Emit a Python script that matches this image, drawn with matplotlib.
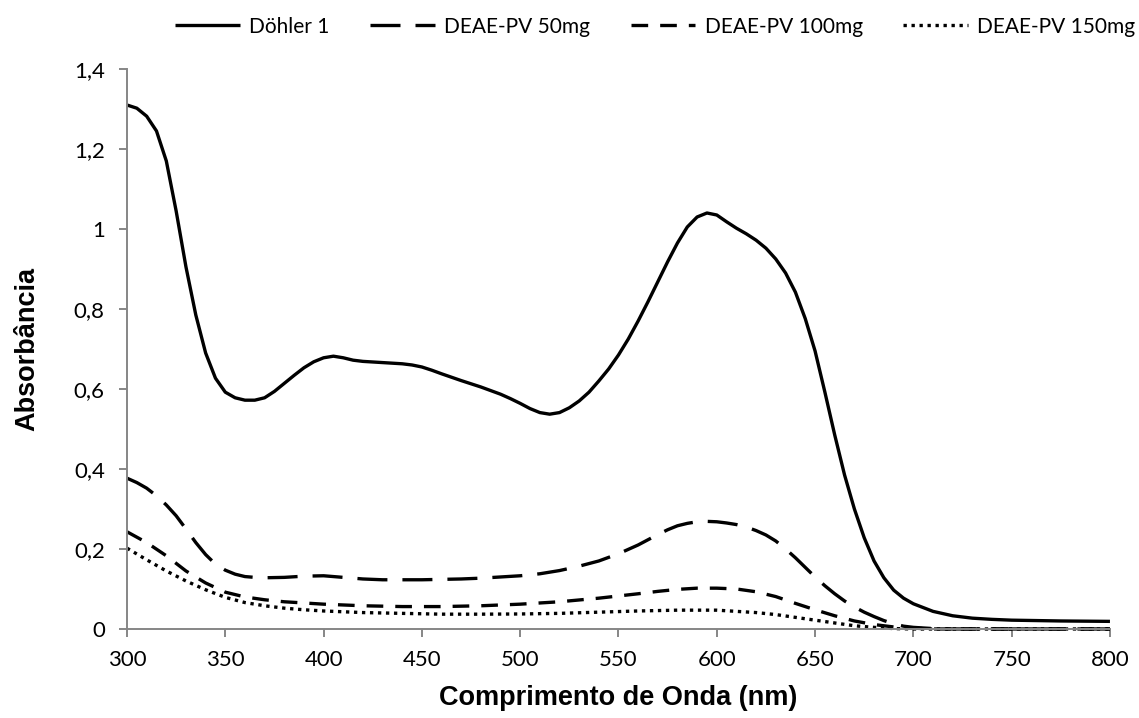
import matplotlib
matplotlib.use("Agg")
import matplotlib.pyplot as plt

# Absorption spectra (wavelength in nm, absorbance)
wl_dohler = [300, 305, 310, 315, 320, 325, 330, 335, 340, 345, 350, 355, 360, 365, 370,
             375, 380, 385, 390, 395, 400, 405, 410, 415, 420, 430, 440, 445, 450, 455,
             460, 470, 480, 490, 495, 500, 505, 510, 515, 520, 525, 530, 535, 540, 545,
             550, 555, 560, 565, 570, 575, 580, 585, 590, 595, 600, 605, 610, 615, 620,
             625, 630, 635, 640, 645, 650, 655, 660, 665, 670, 675, 680, 685, 690, 695,
             700, 710, 720, 730, 740, 750, 775, 800]
abs_dohler = [1.310, 1.302, 1.282, 1.245, 1.170, 1.045, 0.905, 0.785, 0.690, 0.627, 0.592,
              0.578, 0.572, 0.572, 0.578, 0.594, 0.614, 0.634, 0.653, 0.668, 0.678, 0.682,
              0.678, 0.672, 0.669, 0.666, 0.663, 0.660, 0.655, 0.647, 0.638, 0.621, 0.605,
              0.587, 0.576, 0.564, 0.551, 0.541, 0.537, 0.541, 0.553, 0.570, 0.592, 0.620,
              0.650, 0.685, 0.725, 0.770, 0.818, 0.868, 0.918, 0.965, 1.005, 1.030, 1.040,
              1.035, 1.018, 1.002, 0.988, 0.972, 0.952, 0.925, 0.890, 0.842, 0.776, 0.695,
              0.592, 0.485, 0.385, 0.300, 0.228, 0.170, 0.128, 0.097, 0.077, 0.063, 0.044,
              0.033, 0.027, 0.024, 0.022, 0.020, 0.019]

wl_50 = [300, 305, 310, 315, 320, 325, 330, 335, 340, 345, 350, 355, 360, 365, 370, 380,
         390, 400, 410, 420, 430, 440, 450, 460, 470, 480, 490, 500, 510, 520, 530, 540,
         550, 560, 570, 575, 580, 585, 590, 595, 600, 605, 610, 615, 620, 625, 630, 635,
         640, 645, 650, 655, 660, 665, 670, 675, 680, 685, 690, 695, 700, 710, 720, 800]
abs_50 = [0.377, 0.366, 0.352, 0.333, 0.310, 0.283, 0.250, 0.216, 0.186, 0.162, 0.147,
          0.137, 0.131, 0.129, 0.128, 0.129, 0.132, 0.133, 0.129, 0.125, 0.123, 0.123,
          0.123, 0.124, 0.125, 0.127, 0.130, 0.133, 0.138, 0.146, 0.157, 0.170, 0.188,
          0.210, 0.236, 0.248, 0.258, 0.264, 0.268, 0.269, 0.268, 0.265, 0.261, 0.255,
          0.246, 0.235, 0.220, 0.200, 0.178, 0.154, 0.130, 0.108, 0.088, 0.070, 0.055,
          0.042, 0.031, 0.021, 0.013, 0.007, 0.004, 0.001, 0.0, 0.0]

wl_100 = [300, 310, 320, 330, 340, 350, 360, 370, 380, 390, 400, 420, 440, 460, 480, 500,
          520, 540, 560, 570, 580, 590, 600, 610, 620, 630, 640, 650, 660, 670, 680, 690,
          700, 710, 800]
abs_100 = [0.243, 0.216, 0.183, 0.145, 0.115, 0.092, 0.080, 0.073, 0.068, 0.065, 0.062,
           0.058, 0.056, 0.056, 0.058, 0.062, 0.068, 0.077, 0.088, 0.094, 0.099, 0.102,
           0.102, 0.100, 0.093, 0.081, 0.064, 0.048, 0.033, 0.020, 0.011, 0.005, 0.002,
           0.0, 0.0]

wl_150 = [300, 310, 320, 330, 340, 350, 360, 370, 380, 390, 400, 420, 440, 460, 480, 500,
          520, 540, 560, 580, 600, 620, 630, 640, 650, 660, 670, 680, 690, 700, 800]
abs_150 = [0.202, 0.173, 0.145, 0.120, 0.098, 0.079, 0.066, 0.058, 0.052, 0.048, 0.045,
           0.041, 0.039, 0.037, 0.037, 0.0375, 0.039, 0.042, 0.045, 0.047, 0.047, 0.041,
           0.036, 0.029, 0.022, 0.015, 0.008, 0.004, 0.001, 0.0, 0.0]

labels = ["Döhler 1", "DEAE-PV 50mg", "DEAE-PV 100mg", "DEAE-PV 150mg"]
x_ticks = [300, 350, 400, 450, 500, 550, 600, 650, 700, 750, 800]
y_ticks = [0, 0.2, 0.4, 0.6, 0.8, 1.0, 1.2, 1.4]
y_tick_labels = ["0", "0,2", "0,4", "0,6", "0,8", "1", "1,2", "1,4"]

fig = plt.figure(figsize=(11.39, 7.18), dpi=100)
ax = fig.add_axes([0.1115, 0.124, 0.863, 0.7799])

lw = 2.4
styles = ["-", (0, (9, 4.5)), (0, (5, 3.6)), (0, (1, 1.4))]
series = [(wl_dohler, abs_dohler), (wl_50, abs_50), (wl_100, abs_100), (wl_150, abs_150)]
handles = []
for (xs, ys), ls, lab in zip(series, styles, labels):
    h, = ax.plot(xs, ys, color="black", linewidth=lw, linestyle=ls, label=lab,
                 solid_capstyle="butt", dash_capstyle="butt",
                 solid_joinstyle="round", clip_on=False)
    handles.append(h)

ax.set_xlim(300, 800)
ax.set_ylim(0, 1.4)
ax.set_xticks(x_ticks)
ax.set_xticklabels([str(t) for t in x_ticks])
ax.set_yticks(y_ticks)
ax.set_yticklabels(y_tick_labels)

axis_grey = "#868686"
for side in ("top", "right"):
    ax.spines[side].set_visible(False)
for side in ("left", "bottom"):
    ax.spines[side].set_color(axis_grey)
    ax.spines[side].set_linewidth(1.4)

ax.tick_params(axis="both", direction="out", length=6, width=1.4, color=axis_grey,
               labelsize=16, labelcolor="black")
ax.tick_params(axis="y", pad=10)
ax.tick_params(axis="x", pad=9)
for lbl in ax.get_xticklabels() + ax.get_yticklabels():
    lbl.set_family("Lato")

ax.set_xlabel("Comprimento de Onda (nm)", family="Liberation Sans", fontweight="bold",
              fontsize=19.5, labelpad=11)
ax.set_ylabel("Absorbância", family="Liberation Sans", fontweight="bold",
              fontsize=19.5, labelpad=24)

leg = fig.legend(handles=handles, labels=labels, loc="center right", ncol=4,
                 bbox_to_anchor=(0.997, 0.963), frameon=False,
                 prop={"family": "Lato", "size": 15}, handlelength=3.1,
                 handletextpad=0.45, columnspacing=1.95, borderaxespad=0.0,
                 borderpad=0.0)

fig.savefig("out.png", dpi=100, facecolor="white")
